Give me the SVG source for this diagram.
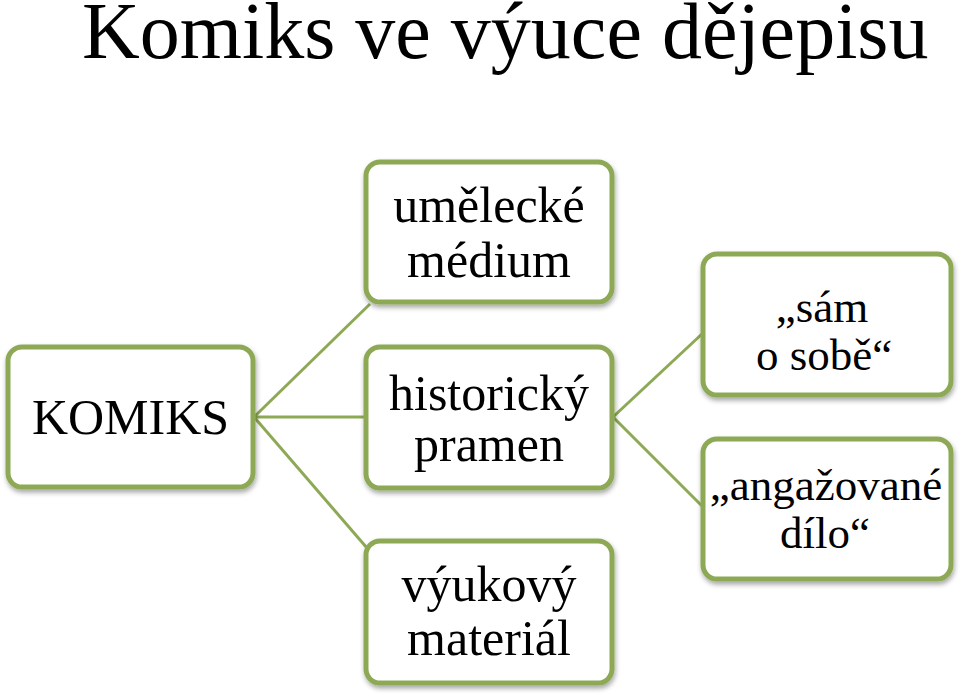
<svg xmlns="http://www.w3.org/2000/svg" width="960" height="697" viewBox="0 0 960 697">
<defs>
<filter id="sh" x="-10%" y="-10%" width="120%" height="130%">
<feDropShadow dx="1" dy="3" stdDeviation="2.5" flood-color="#000" flood-opacity="0.35"/>
</filter>
<style>
.box{fill:#fff;stroke:#8DA956;stroke-width:5;filter:url(#sh)}
.t{font-family:"Liberation Serif","Times New Roman",serif;font-size:50px;fill:#000;text-anchor:middle}
.s{font-size:45px}
.c{stroke:#8DA956;stroke-width:3;fill:none}
</style>
</defs>
<rect width="960" height="697" fill="#fff"/>
<text x="82" y="58" style="font-family:'Liberation Serif','Times New Roman',serif;font-size:80px;fill:#000">Komiks ve výuce dějepisu</text>
<g id="connectors">
<line class="c" x1="254" y1="417" x2="370" y2="304"/>
<line class="c" x1="254" y1="417" x2="366" y2="417"/>
<line class="c" x1="254" y1="417" x2="367" y2="548"/>
<line class="c" x1="613" y1="417" x2="703" y2="333"/>
<line class="c" x1="613" y1="417" x2="703" y2="507"/>
</g>
<g id="komiks">
<rect class="box" x="8" y="347" width="245" height="140" rx="14"/>
<text class="t" x="130.5" y="434">KOMIKS</text>
</g>
<g id="umelecke">
<rect class="box" x="366" y="162" width="246" height="140" rx="14"/>
<text class="t" x="489" y="222">umělecké</text>
<text class="t" x="489" y="277">médium</text>
</g>
<g id="historicky">
<rect class="box" x="366" y="347" width="246" height="141" rx="14"/>
<text class="t" x="489" y="410">historický</text>
<text class="t" x="489" y="461">pramen</text>
</g>
<g id="vyukovy">
<rect class="box" x="366" y="541" width="246" height="142" rx="14"/>
<text class="t" x="489" y="601">výukový</text>
<text class="t" x="489" y="655">materiál</text>
</g>
<g id="sam">
<rect class="box" x="703" y="254" width="248" height="141" rx="14"/>
<text class="t s" x="822" y="322">„sám</text>
<text class="t s" x="824" y="370">o sobě“</text>
</g>
<g id="angazovane">
<rect class="box" x="703" y="439" width="248" height="140" rx="14"/>
<text class="t s" x="826" y="500">„angažované</text>
<text class="t s" x="825" y="548">dílo“</text>
</g>
</svg>
